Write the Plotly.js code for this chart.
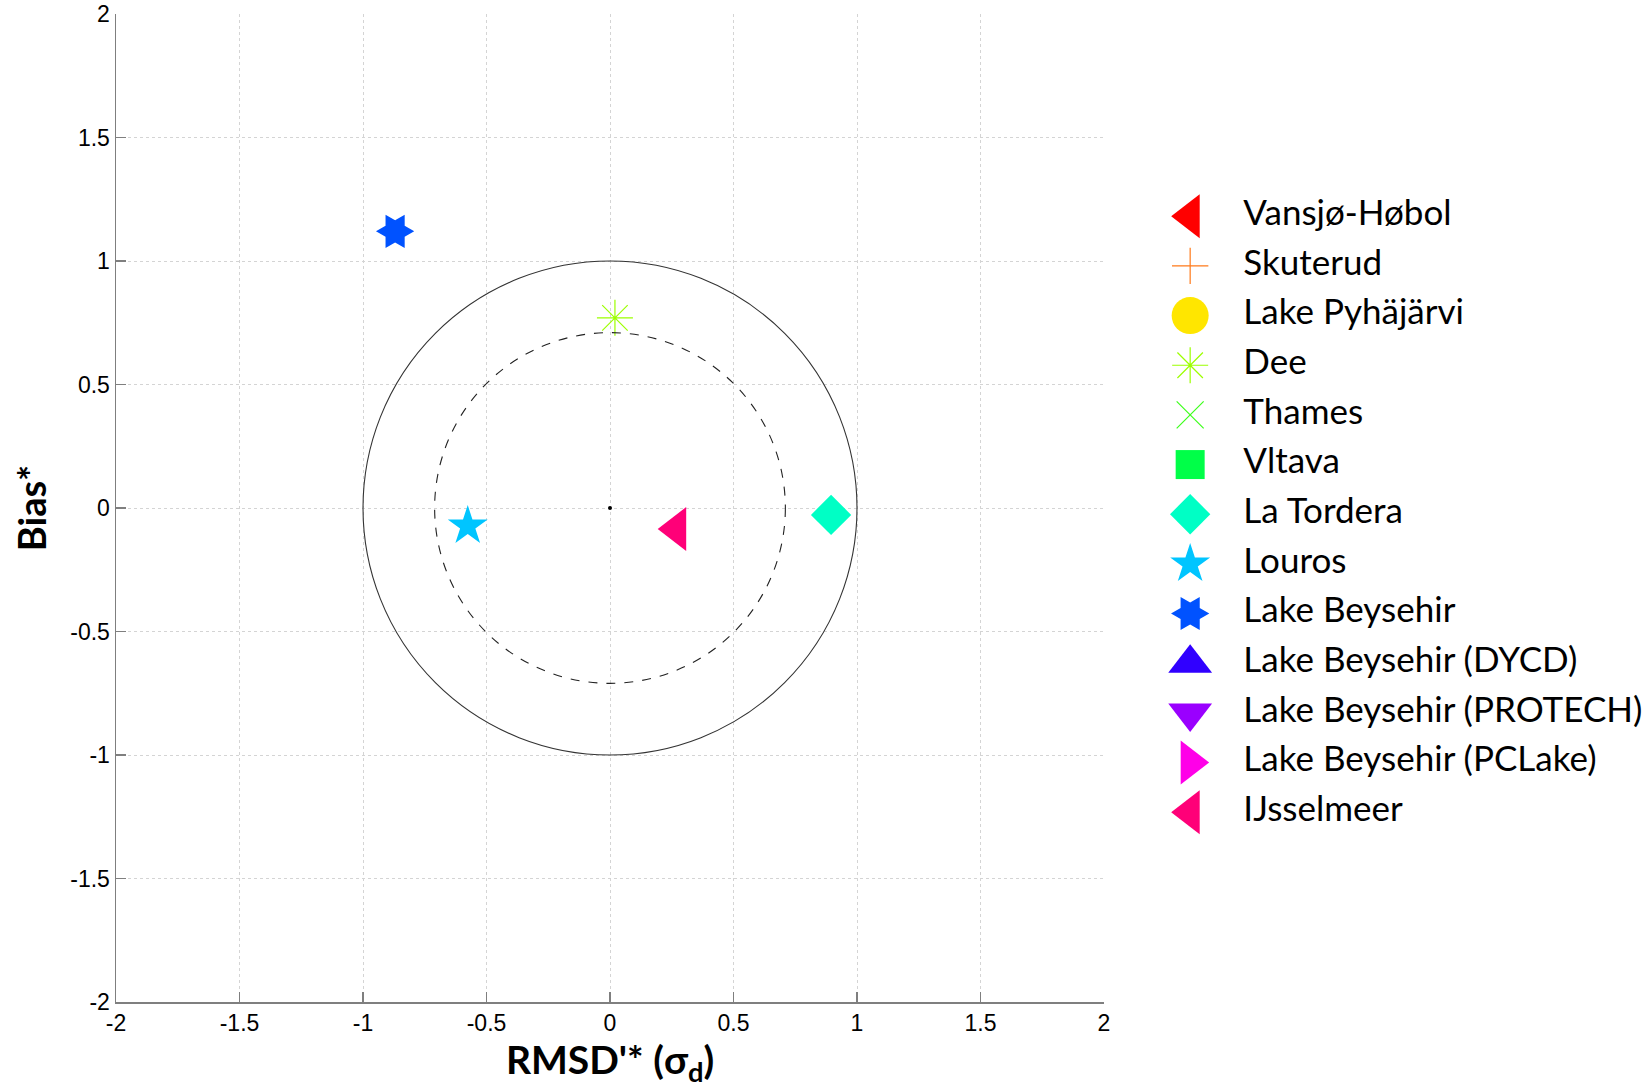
<!DOCTYPE html>
<html>
<head>
<meta charset="utf-8">
<script src="https://cdn.plot.ly/plotly-3.0.1.min.js"></script>
<style>html,body{margin:0;padding:0;background:#fff;}#chart{width:1652px;height:1088px;}</style>
</head>
<body>
<div id="chart"></div>
<script>
// ---------- data ----------
const sites = ["Vansjø-Høbol", "Skuterud", "Lake Pyhäjärvi", "Dee", "Thames", "Vltava",
  "La Tordera", "Louros", "Lake Beysehir", "Lake Beysehir (DYCD)",
  "Lake Beysehir (PROTECH)", "Lake Beysehir (PCLake)", "IJsselmeer"];
// RMSD'* (x) and Bias* (y); null = not visible inside the plotted range
const rmsdValues = [null, null, null, 0.02, null, null, 0.895, -0.576, -0.87, null, null, null, 0.27];
const biasValues = [null, null, null, 0.77, null, null, -0.028, -0.073, 1.12, null, null, null, -0.085];
const tickValues = [-2, -1.5, -1, -0.5, 0, 0.5, 1, 1.5, 2];
const tickLabels = ["-2", "-1.5", "-1", "-0.5", "0", "0.5", "1", "1.5", "2"];
const circleRadii = [1, 0.71];
const originX = [0];
const originY = [0];

// ---------- styles ----------
const colors = ["#ff0000", "#ff7a1a", "#ffe600", "#9cff00", "#3cff1a", "#00ff48",
  "#00ffc5", "#00c5ff", "#0052ff", "#3000ff", "#9a00ff", "#ff00e8", "#ff0078"];
const symbols = ["triangle-left", "cross-thin-open", "circle", "asterisk-open", "x-thin-open", "square",
  "diamond", "star", "hexagram", "triangle-up", "triangle-down", "triangle-right", "triangle-left"];
const sizes = [38, 26, 37, 30, 27, 29, 31, 30, 29, 38, 38, 38, 38];
const openSym = s => s.indexOf("open") >= 0;

const traces = [];
sites.forEach((name, i) => {
  const open = openSym(symbols[i]);
  traces.push({
    type: "scatter", mode: "markers", name: name, showlegend: false,
    x: [rmsdValues[i]], y: [biasValues[i]],
    marker: {
      symbol: symbols[i], size: sizes[i], color: colors[i], opacity: 1,
      angle: symbols[i] === "hexagram" ? 90 : 0,
      line: {width: open ? 1.2 : 0, color: colors[i]}
    },
    hoverinfo: "name+x+y", cliponaxis: true
  });
});
traces.push({
  type: "scatter", mode: "markers", x: originX, y: originY, showlegend: false,
  marker: {size: 4, color: "#000", opacity: 1}, hoverinfo: "skip"
});

// legend drawn on a hidden side axis, one row per site
const legendRows = sites.map((s, i) => i);
const legendMarkerX = 0.08, legendTextX = 0.186;
traces.push({
  type: "scatter", mode: "markers", xaxis: "x2", yaxis: "y2", showlegend: false,
  x: legendRows.map(() => legendMarkerX), y: legendRows,
  marker: {
    symbol: symbols, size: sizes, color: colors, opacity: 1,
    angle: symbols.map(s => s === "hexagram" ? 90 : 0),
    line: {width: symbols.map(s => openSym(s) ? 1.2 : 0), color: colors}
  },
  hoverinfo: "skip"
});
traces.push({
  type: "scatter", mode: "text", xaxis: "x2", yaxis: "y2", showlegend: false,
  x: legendRows.map(() => legendTextX), y: legendRows, text: sites,
  textposition: "middle right",
  textfont: {family: "Lato", size: 35, color: "#000"},
  hoverinfo: "skip"
});

const axisCommon = {
  range: [-2, 2], tickmode: "array", tickvals: tickValues, ticktext: tickLabels,
  showgrid: true, gridcolor: "#d4d4d4", griddash: "dot", gridwidth: 1,
  zeroline: false, showline: true, linecolor: "#7f7f7f", linewidth: 1.5,
  ticks: "inside", ticklen: 10, tickwidth: 1.2, tickcolor: "#7f7f7f",
  tickfont: {family: "Liberation Sans, Arial", size: 23, color: "#000"},
  automargin: false, fixedrange: true
};

const shapes = circleRadii.map((r, i) => ({
  type: "circle", xref: "x", yref: "y", x0: -r, y0: -r, x1: r, y1: r,
  line: {color: i === 0 ? "#333" : "#222", width: 1.1, dash: i === 0 ? "solid" : "dash"},
  layer: "above"
}));

const plotW = 1652 - 116;
const layout = {
  width: 1652, height: 1088,
  margin: {l: 116, r: 0, t: 14, b: 86},
  paper_bgcolor: "#fff", plot_bgcolor: "#fff",
  showlegend: false,
  xaxis: Object.assign({}, axisCommon, {
    domain: [0, 988 / plotW], anchor: "y",
    title: {text: "<b>RMSD'* (σ<sub>d</sub>)</b>", font: {family: "Lato", size: 39, color: "#000"}, standoff: 16}
  }),
  yaxis: Object.assign({}, axisCommon, {
    domain: [0, 1], anchor: "x",
    title: {text: "<b>Bias*</b>", font: {family: "Lato", size: 38, color: "#000"}, standoff: 12}
  }),
  xaxis2: {domain: [(1150 - 116) / plotW, 1], range: [0, 1], visible: false, fixedrange: true, anchor: "y2"},
  yaxis2: {domain: [0, 1], range: [15.821, -4.072], visible: false, fixedrange: true, anchor: "x2"},
  shapes: shapes
};

Plotly.newPlot("chart", traces, layout, {displayModeBar: false, staticPlot: true});
</script>
</body>
</html>
